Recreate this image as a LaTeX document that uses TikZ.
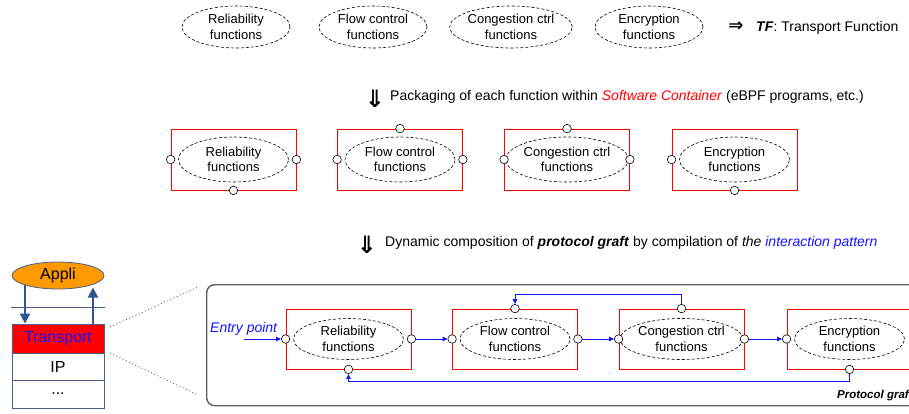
\documentclass[tikz,border=0pt]{standalone}
\usepackage{fontspec}
\setmainfont{Liberation Sans}
\newfontfamily\arrowfont{DejaVu Sans}
\usetikzlibrary{arrows.meta,shapes.geometric,backgrounds}
\definecolor{stackblue}{RGB}{72,98,140}
\definecolor{arrowblue}{RGB}{47,85,143}
\definecolor{appliorange}{RGB}{255,153,0}
\definecolor{framegray}{RGB}{95,95,95}
\definecolor{linkblue}{RGB}{20,20,255}
\begin{document}
\begin{tikzpicture}[x=1pt,y=-1pt,
  fn/.style={ellipse, draw, dash pattern=on 3pt off 2pt, line width=0.6pt,
    minimum width=110pt, minimum height=45pt, inner sep=0pt, align=center,
    font=\fontsize{13}{15.5}\selectfont},
  fnbox/.style={draw=red, line width=0.8pt, minimum width=125pt,
    minimum height=61pt, inner sep=0pt},
  port/.style={circle, draw, fill=white, line width=0.6pt, minimum size=8.5pt,
    inner sep=0pt},
  link/.style={draw=linkblue, line width=0.8pt,
    -{Triangle[length=5pt,width=4.5pt]}},
  capt/.style={anchor=west, inner sep=0pt, font=\fontsize{14}{16}\selectfont},
  darrow/.style={inner sep=0pt, font=\arrowfont\bfseries\fontsize{24}{24}\selectfont},
  stacklayer/.style={draw=stackblue, line width=0.8pt, minimum width=92pt,
    inner sep=0pt, font=\fontsize{16}{16}\selectfont},
  stackarrow/.style={draw=arrowblue, line width=2pt,
    -{Triangle[length=10pt,width=10pt]}},
  zoomline/.style={draw=stackblue, line width=0.8pt, dash pattern=on 1pt off 2.5pt},
]
\useasboundingbox (0,0) rectangle (909,413);
\clip (0,0) rectangle (909,413);

% ---- the four transport functions
\node[fn, minimum width=108pt, minimum height=42pt] (t1) at (236,27) {Reliability\\functions};
\node[fn, minimum width=108pt, minimum height=42pt] (t2) at (373,27) {Flow control\\functions};
\node[fn, minimum width=108pt, minimum height=42pt] (t3) at (511,27) {Congestion ctrl\\functions};
\node[fn, minimum width=108pt, minimum height=42pt] (t4) at (649,27) {Encryption\\functions};
\node[darrow, font=\arrowfont\bfseries\fontsize{18}{18}\selectfont] (tfarrow) at (736,27) {⇒};
\node[capt] (tf) at (756,28) {\textbf{\textit{TF}}: Transport Function};

% ---- packaging step
\node[darrow] (pkgarrow) at (375,99) {⇓};
\node[capt] (pkg) at (390,97) {Packaging of each function within
  \textcolor{red}{\textit{Software Container}} (eBPF programs, etc.)};

\node[fnbox] (c1) at (233.5,159.5) {};
\node[fn] (d1) at (c1.center) {Reliability\\functions};
\node[fnbox] (c2) at (400,159.5) {};
\node[fn] (d2) at (c2.center) {Flow control\\functions};
\node[fnbox] (c3) at (567,159.5) {};
\node[fn] (d3) at (c3.center) {Congestion ctrl\\functions};
\node[fnbox] (c4) at (734.5,159.5) {};
\node[fn] (d4) at (c4.center) {Encryption\\functions};

\node[port] (c1w) at (c1.west) {};
\node[port] (c1e) at (c1.east) {};
\node[port] (c1s) at (c1.south) {};
\node[port] (c2w) at (c2.west) {};
\node[port] (c2e) at (c2.east) {};
\node[port] (c2n) at (c2.north) {};
\node[port] (c3w) at (c3.west) {};
\node[port] (c3e) at (c3.east) {};
\node[port] (c3n) at (c3.north) {};
\node[port] (c4w) at (c4.west) {};
\node[port] (c4s) at (c4.south) {};

% ---- composition step
\node[darrow] (graftarrow) at (367,245) {⇓};
\node[capt] (graftcap) at (385,243) {Dynamic composition of
  \textbf{\textit{protocol graft}} by compilation of \textit{the}
  \textcolor{linkblue}{\textit{interaction pattern}}};

% protocol graft frame
\node[draw=framegray, line width=1.4pt, rounded corners=8pt, anchor=north west,
  minimum width=730pt, minimum height=121pt, inner sep=0pt] (graft) at (206,284) {};
\node[anchor=west, inner sep=0pt, font=\fontsize{11.5}{12}\selectfont\bfseries\itshape]
  (graftlabel) at (837,396) {Protocol graft};

\node[fnbox, minimum height=60pt] (r1) at (348.5,339) {};
\node[fn, minimum height=41pt] (g1) at (r1.center) {Reliability\\functions};
\node[fnbox, minimum height=60pt] (r2) at (515,339) {};
\node[fn, minimum height=41pt] (g2) at (r2.center) {Flow control\\functions};
\node[fnbox, minimum height=60pt] (r3) at (681.5,339) {};
\node[fn, minimum height=41pt] (g3) at (r3.center) {Congestion ctrl\\functions};
\node[fnbox, minimum height=60pt] (r4) at (849.5,339) {};
\node[fn, minimum height=41pt] (g4) at (r4.center) {Encryption\\functions};

\node[port] (r1w) at (r1.west) {};
\node[port] (r1e) at (r1.east) {};
\node[port] (r1s) at (r1.south) {};
\node[port] (r2w) at (r2.west) {};
\node[port] (r2e) at (r2.east) {};
\node[port] (r2n) at (r2.north) {};
\node[port] (r3w) at (r3.west) {};
\node[port] (r3e) at (r3.east) {};
\node[port] (r3n) at (r3.north) {};
\node[port] (r4w) at (r4.west) {};
\node[port] (r4s) at (r4.south) {};

\node[anchor=west, inner sep=0pt, text=linkblue, font=\fontsize{14}{14}\selectfont\itshape]
  (entrytext) at (210,329) {Entry point};
\coordinate (entry) at (244,339);

% interaction pattern
\draw[link] (entry) -- (r1w);
\draw[link] (r1e) -- (r2w);
\draw[link] (r2e) -- (r3w);
\draw[link] (r3e) -- (r4w);
\draw[link] (r3n.north) -- (r3n.north |- 0,294) -| (r2n.north);
\draw[link] (r4s.south) -- (r4s.south |- 0,381) -| (r1s.south);

% ---- protocol stack
\node[ellipse, draw=stackblue, fill=appliorange, line width=0.8pt,
  minimum width=92pt, minimum height=27pt, inner sep=0pt,
  font=\fontsize{16}{16}\selectfont] (appli) at (58,275.5) {Appli};
\coordinate (sepL) at (11,307);
\coordinate (sepR) at (105,307);
\draw[stackblue, line width=0.8pt] (sepL) -- (sepR);
\node[stacklayer, fill=red, text=linkblue, minimum height=29pt] (transport) at (58,338.5) {Transport};
\node[stacklayer, minimum height=27pt] (ip) at (58,366.5) {IP};
\node[stacklayer, minimum height=28pt] (dots) at (58,394) {...};

\coordinate (upTip) at (93,287.5);
\begin{scope}[on background layer]
  \draw[stackarrow] ([xshift=-33pt]appli.center) -- (transport.north -| 25,0);
\end{scope}
\draw[stackarrow] (transport.north -| 93,0) -- (upTip);

% zoom lines towards the graft
\coordinate (zoomA1) at (110,327);
\coordinate (zoomA2) at (198,287);
\coordinate (zoomB1) at (110,353);
\coordinate (zoomB2) at (198,395);
\draw[zoomline] (zoomA1) -- (zoomA2);
\draw[zoomline] (zoomB1) -- (zoomB2);
\end{tikzpicture}
\end{document}
